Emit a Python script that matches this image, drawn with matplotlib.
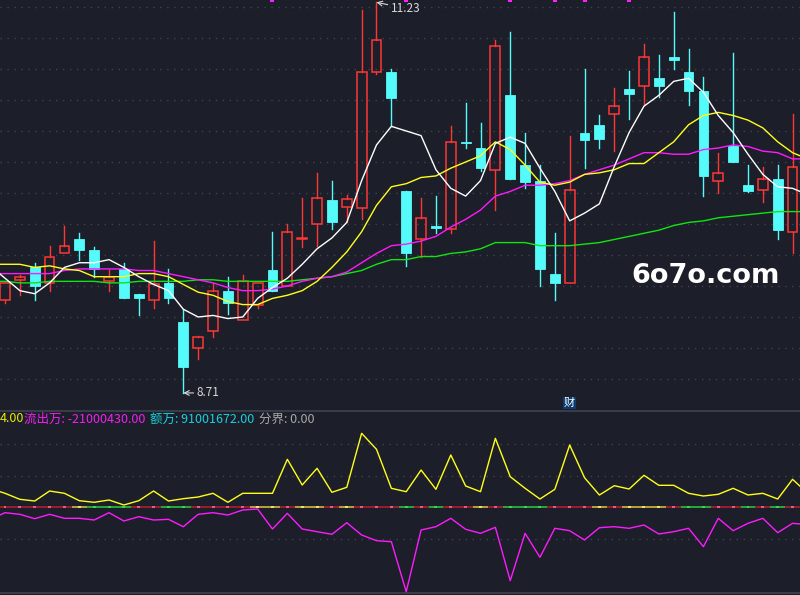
import numpy as np
import matplotlib.pyplot as plt
from matplotlib.patches import Rectangle

plt.rcParams['font.family'] = ['Noto Sans CJK SC', 'DejaVu Sans']

# daily candles, visible window (index 0..53)
opens = [9.31, 9.44, 9.52, 9.42, 9.61, 9.70, 9.63, 9.43, 9.51, 9.35,
         9.31, 9.42, 9.17, 9.00, 9.11, 9.37, 9.18, 9.28, 9.50, 9.40,
         9.70, 9.80, 9.955, 9.91, 9.90, 10.78, 10.78, 10.01, 9.70, 9.785,
         9.77, 10.33, 10.29, 10.15, 10.63, 10.18, 10.08, 9.48, 9.42, 10.39,
         10.44, 10.51, 10.67, 10.69, 10.74, 10.875, 10.78, 10.66, 10.08, 10.305,
         10.05, 10.02, 10.09, 9.75]
highs = [9.42, 9.47, 9.55, 9.66, 9.79, 9.74, 9.65, 9.50, 9.55, 9.35,
         9.69, 9.51, 9.25, 9.08, 9.42, 9.46, 9.47, 9.42, 9.75, 9.80,
         9.97, 10.13, 10.08, 9.99, 11.18, 11.23, 10.80, 10.01, 9.97, 9.98,
         10.43, 10.58, 10.45, 10.99, 11.04, 10.39, 10.18, 9.74, 10.37, 10.80,
         10.50, 10.68, 10.79, 10.96, 10.89, 11.17, 10.93, 10.75, 10.26, 10.90,
         10.18, 10.17, 10.18, 10.51]
lows = [9.29, 9.34, 9.31, 9.37, 9.61, 9.57, 9.46, 9.37, 9.32, 9.21,
        9.26, 9.29, 8.71, 8.93, 9.07, 9.22, 9.18, 9.26, 9.37, 9.40,
        9.65, 9.66, 9.77, 9.81, 9.83, 10.77, 10.43, 9.53, 9.59, 9.74,
        9.74, 10.29, 10.14, 9.89, 10.09, 10.03, 9.40, 9.31, 9.42, 10.16,
        10.29, 10.27, 10.48, 10.57, 10.62, 10.80, 10.57, 9.98, 10.00, 10.20,
        10.005, 9.94, 9.70, 9.61]
closes = [9.42, 9.46, 9.40, 9.59, 9.66, 9.63, 9.51, 9.46, 9.32, 9.32,
          9.41, 9.32, 8.88, 9.07, 9.37, 9.29, 9.43, 9.42, 9.37, 9.75,
          9.71, 9.97, 9.815, 9.96, 10.78, 10.985, 10.61, 9.615, 9.84, 9.775,
          10.33, 10.32, 10.16, 10.95, 10.09, 10.07, 9.51, 9.42, 10.02, 10.34,
          10.35, 10.56, 10.64, 10.875, 10.69, 10.86, 10.66, 10.11, 10.13, 10.20,
          10.01, 10.09, 9.76, 10.17]

# moving averages, index -1..54 (one point past each edge)
ma5 = [9.53, 9.45, 9.37, 9.35, 9.42, 9.52, 9.55, 9.55, 9.57, 9.52,
       9.46, 9.41, 9.37, 9.25, 9.20, 9.21, 9.19, 9.20, 9.32, 9.39,
       9.45, 9.54, 9.64, 9.71, 9.81, 10.08, 10.31, 10.43, 10.40, 10.37,
       10.15, 10.03, 9.98, 10.08, 10.32, 10.36, 10.32, 10.16, 10.01, 9.82,
       9.87, 9.93, 10.17, 10.39, 10.56, 10.63, 10.72, 10.74, 10.65, 10.50,
       10.39, 10.25, 10.12, 10.04, 10.03, 9.99]
ma10 = [9.54, 9.54, 9.54, 9.52, 9.53, 9.51, 9.50, 9.46, 9.46, 9.46,
        9.48, 9.48, 9.46, 9.41, 9.36, 9.34, 9.30, 9.28, 9.28, 9.32,
        9.34, 9.37, 9.43, 9.52, 9.62, 9.75, 9.92, 10.04, 10.06, 10.10,
        10.11, 10.16, 10.20, 10.24, 10.33, 10.28, 10.18, 10.07, 10.05, 10.07,
        10.12, 10.13, 10.15, 10.19, 10.19, 10.26, 10.33, 10.44, 10.50, 10.52,
        10.50, 10.47, 10.42, 10.33, 10.26, 10.22]
ma20 = [9.48, 9.48, 9.48, 9.48, 9.48, 9.50, 9.51, 9.51, 9.51, 9.51,
        9.50, 9.50, 9.48, 9.46, 9.44, 9.42, 9.39, 9.37, 9.37, 9.38,
        9.40, 9.43, 9.45, 9.46, 9.49, 9.55, 9.61, 9.66, 9.67, 9.69,
        9.72, 9.78, 9.83, 9.89, 9.98, 10.01, 10.05, 10.05, 10.06, 10.08,
        10.12, 10.15, 10.18, 10.22, 10.26, 10.26, 10.25, 10.25, 10.28, 10.29,
        10.31, 10.30, 10.27, 10.26, 10.22, 10.22]
ma60 = [9.43, 9.43, 9.42, 9.42, 9.43, 9.43, 9.43, 9.43, 9.42, 9.42,
        9.43, 9.43, 9.43, 9.43, 9.44, 9.44, 9.43, 9.43, 9.43, 9.43,
        9.43, 9.44, 9.45, 9.46, 9.48, 9.50, 9.54, 9.57, 9.57, 9.59,
        9.59, 9.61, 9.62, 9.64, 9.68, 9.68, 9.68, 9.66, 9.66, 9.66,
        9.67, 9.68, 9.70, 9.72, 9.74, 9.76, 9.79, 9.81, 9.82, 9.84,
        9.85, 9.86, 9.87, 9.88, 9.88, 9.88]

# money flow panel (millions), index -1..54
inflow = [24.4, 18.2, 10.4, 8.2, 21.2, 18.2, 8.6, 6.5, 9.5, 3.0,
          8.6, 21.2, 8.2, 11.2, 13.4, 18.2, 6.5, 18.2, 18.2, 18.2,
          62.4, 29.0, 50.7, 19.5, 26.0, 96.2, 75.4, 24.7, 20.3, 48.5,
          23.4, 68.0, 27.7, 20.3, 89.7, 39.8, 24.7, 10.8, 23.4, 81.0,
          38.5, 16.0, 28.1, 23.8, 41.6, 28.6, 28.6, 18.2, 14.7, 16.9,
          24.7, 16.0, 18.2, 10.8, 36.4, 18.6]
outflow = [-16.0, -7.0, -9.1, -14.8, -9.1, -14.3, -14.3, -16.5, -7.0, -17.8,
           -12.2, -16.5, -15.6, -25.2, -9.1, -7.0, -10.0, -3.5, -2.2, -28.2,
           -7.8, -28.2, -31.7, -35.1, -20.0, -36.0, -43.4, -44.7, -109.7, -29.5,
           -25.2, -14.3, -28.6, -33.8, -26.0, -95.4, -33.8, -65.0, -27.3, -30.4,
           -42.5, -26.5, -25.2, -27.3, -23.0, -34.7, -31.7, -27.3, -51.2, -14.3,
           -30.4, -20.8, -14.3, -33.0, -20.8, -22.5]
zero_flags = list("rrrrrygggrrggrrrryyryyryrrrgrgrryrgggrrryryyyrggrrgrgr")
signal_idx = [18, 27, 34, 37, 39, 42]

BG = '#1c1f29'
RED = '#ff3636'
CYAN = '#55fafa'
GRID = '#3e434f'

fig = plt.figure(figsize=(8, 5.95), dpi=100, facecolor=BG)
ax = fig.add_axes([0, 184 / 595, 1, 411 / 595], facecolor=BG)
axb = fig.add_axes([0, 2 / 595, 1, 182 / 595], facecolor=BG)

n = len(closes)
xm = np.arange(-1, n + 1)
xlim = (-0.337, 53.5)

# price panel
for p in np.arange(8.8, 11.25, 0.2):
    ax.axhline(p, color=GRID, lw=1, ls=(0, (1, 4)), zorder=0)

w = 0.66
for i, (o, h, l, c) in enumerate(zip(opens, highs, lows, closes)):
    top, bot = max(o, c), min(o, c)
    hgt = max(top - bot, 0.006)
    if c > o:
        ax.plot([i, i], [top, h], color=RED, lw=1, zorder=2)
        ax.plot([i, i], [l, bot], color=RED, lw=1, zorder=2)
        ax.add_patch(Rectangle((i - w / 2, bot), w, hgt, facecolor='none',
                               edgecolor=RED, lw=1.1, zorder=3))
    else:
        ax.plot([i, i], [l, h], color=CYAN, lw=1, zorder=2)
        ax.add_patch(Rectangle((i - w / 2, bot), w, hgt, facecolor=CYAN,
                               edgecolor=CYAN, lw=0.6, zorder=3))

ax.plot(xm, ma60, color='#12e412', lw=1, zorder=4)
ax.plot(xm, ma20, color='#ff1aff', lw=1, zorder=4)
ax.plot(xm, ma10, color='#ffff1a', lw=1, zorder=4)
ax.plot(xm, ma5, color='#ffffff', lw=1, zorder=4)

ax.set_xlim(*xlim)
ax.set_ylim(8.5935, 11.245)
ax.scatter(signal_idx, [11.245] * len(signal_idx), marker='s', s=8,
           color='#ff22ff', linewidths=0, zorder=5, clip_on=True)

hi = int(np.argmax(highs))
lo = int(np.argmin(lows))
ax.annotate('%.2f' % highs[hi], xy=(hi, highs[hi]), xytext=(14, -6),
            textcoords='offset pixels', color='#d8d8d8', fontsize=8.5,
            va='center', ha='left',
            arrowprops=dict(arrowstyle='->', color='#d8d8d8', lw=0.8,
                            shrinkA=0, shrinkB=0))
ax.annotate('%.2f' % lows[lo], xy=(lo, lows[lo]), xytext=(13, 0),
            textcoords='offset pixels', color='#d8d8d8', fontsize=8.5,
            va='center', ha='left',
            arrowprops=dict(arrowstyle='->', color='#d8d8d8', lw=0.8,
                            shrinkA=0, shrinkB=0))
ax.text(38, 8.645, '财', color='white', fontsize=8, ha='center', va='center',
        bbox=dict(boxstyle='square,pad=0.1', facecolor='#0d3b70', edgecolor='none'))

for s in ax.spines.values():
    s.set_visible(False)
ax.set_xticks([])
ax.set_yticks([])

# money flow panel
for v in [-41.6, 40.7, 81.9]:
    axb.axhline(v, color=GRID, lw=1, ls=(0, (1, 4)), zorder=0)

flag_col = {'r': ('#9c1c2c', '#e0608c'), 'g': ('#25a83a', '#45d050'),
            'y': ('#b8a23c', '#f0e070')}
for i, f in enumerate(zero_flags):
    base, mid = flag_col[f]
    axb.plot([i - 0.5, i + 0.5], [0, 0], color=base, lw=1.4,
             solid_capstyle='butt', zorder=2)
    axb.plot([i - 0.1, i + 0.1], [0, 0], color=mid, lw=1.4,
             solid_capstyle='butt', zorder=2)

axb.plot(xm, inflow, color='#ffff1a', lw=1, zorder=3)
axb.plot(xm, outflow, color='#ff1aff', lw=1, zorder=3)
axb.set_xlim(*xlim)
axb.set_ylim(-111.4, 125.2)
for k, s in axb.spines.items():
    s.set_visible(k in ('top', 'bottom'))
    s.set_color('#3d4250')
    s.set_linewidth(1.2)
axb.set_xticks([])
axb.set_yticks([])

ty = 1 - 419 / 595
fig.text(0 / 800, ty, '4.00', color='#e8e800', fontsize=9, va='center')
fig.text(24 / 800, ty, '流出万: -21000430.00', color='#f020f0', fontsize=9, va='center')
fig.text(150 / 800, ty, '额万: 91001672.00', color='#18d0dc', fontsize=9, va='center')
fig.text(259 / 800, ty, '分界: 0.00', color='#a8a8a8', fontsize=9, va='center')

fig.text(706 / 800, 1 - 276 / 595, '6o7o.com', color='white', fontsize=19.5,
         fontweight='bold', family='DejaVu Sans', ha='center', va='center')

fig.savefig('out.png', dpi=100, facecolor=BG)
